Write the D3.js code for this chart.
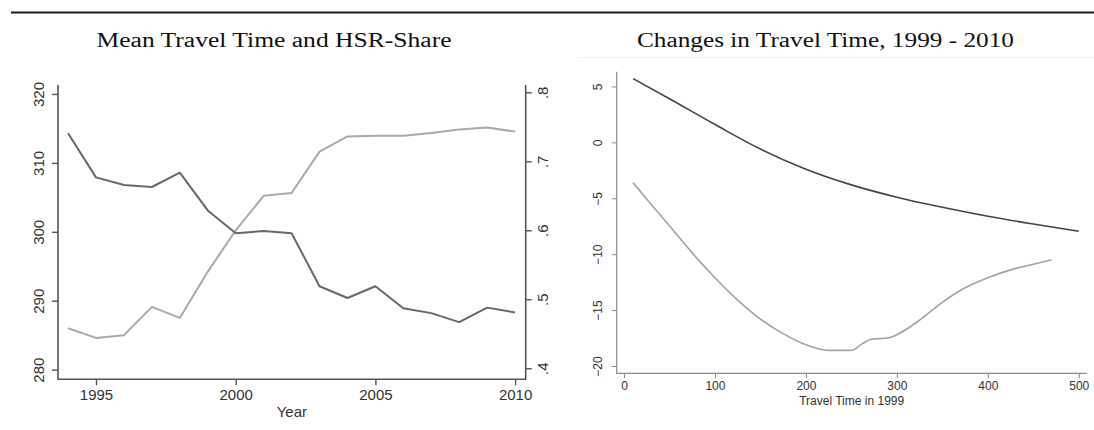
<!DOCTYPE html>
<html>
<head>
<meta charset="utf-8">
<script src="https://cdn.jsdelivr.net/npm/d3@7"></script>
<style>
  html, body { margin: 0; padding: 0; background: #fff; }
  svg { display: block; }
</style>
</head>
<body>
<svg id="fig" width="1094" height="430"></svg>
<script>
// Panel (a): yearly means
const years = [1994, 1995, 1996, 1997, 1998, 1999, 2000, 2001, 2002, 2003, 2004, 2005, 2006, 2007, 2008, 2009, 2010];
const meanTravelTime = [314.3, 307.9, 306.8, 306.5, 308.6, 303.1, 299.8, 300.1, 299.8, 292.1, 290.4, 292.1, 288.9, 288.2, 286.9, 289.0, 288.3];
const hsrShare = [0.458, 0.444, 0.448, 0.489, 0.473, 0.540, 0.600, 0.650, 0.654, 0.714, 0.736, 0.737, 0.737, 0.741, 0.746, 0.749, 0.743];
const yearTicks = [1995, 2000, 2005, 2010];
const timeTicks = [280, 290, 300, 310, 320];
const shareTicks = [0.4, 0.5, 0.6, 0.7, 0.8];
const shareTickLabels = [".4", ".5", ".6", ".7", ".8"];

// Panel (b): smoothed changes against 1999 travel time
const baseTimeA = [10, 50, 100, 150, 200, 250, 300, 350, 400, 450, 500];
const changeA = [5.7, 3.9, 1.6, -0.6, -2.4, -3.8, -4.9, -5.8, -6.6, -7.3, -7.95];
const baseTimeB = [10, 30, 55, 80, 100, 125, 150, 175, 200, 225, 250, 262, 272, 290, 300, 325, 350, 375, 400, 425, 450, 470];
const changeB = [-3.6, -5.55, -7.95, -10.35, -12.1, -14.1, -15.8, -17.1, -18.1, -18.6, -18.6, -18.0, -17.6, -17.5, -17.2, -15.9, -14.3, -13.0, -12.1, -11.4, -10.9, -10.5];
const baseTicks = [0, 100, 200, 300, 400, 500];
const changeTicks = [-20, -15, -10, -5, 0, 5];

const svg = d3.select("#fig");
const sans = "'Liberation Sans', Arial, sans-serif";
const serif = "'Liberation Serif', 'Times New Roman', serif";

// Rule across the top
svg.append("line")
  .attr("x1", 11).attr("x2", 1094).attr("y1", 12.5).attr("y2", 12.5)
  .attr("stroke", "#1a1a1a").attr("stroke-width", 2.2);

// Panel titles
function title(text, cx, width) {
  svg.append("text")
    .attr("x", cx).attr("y", 47)
    .attr("text-anchor", "middle")
    .attr("font-family", serif).attr("font-size", 20.5)
    .attr("fill", "#111")
    .attr("textLength", width).attr("lengthAdjust", "spacingAndGlyphs")
    .text(text);
}
title("Mean Travel Time and HSR-Share", 274, 355);
title("Changes in Travel Time, 1999 - 2010", 825.5, 377);

// faint frame edge of the right graph region
svg.append("line")
  .attr("x1", 577).attr("x2", 1094).attr("y1", 57.5).attr("y2", 57.5)
  .attr("stroke", "#f0f0f0").attr("stroke-width", 1);

// ---------- Panel (a) ----------
{
  const L = 58, R = 525.7, T = 85, B = 379.3;
  const x = d3.scaleLinear().domain([1993.64, 2010.38]).range([L, R]);
  const yL = d3.scaleLinear().domain([278.6, 321.3]).range([B, T]);
  const yR = d3.scaleLinear().domain([0.384, 0.8106]).range([B, T]);
  const axisColor = "#555";
  const g = svg.append("g");

  function style(sel, fs) {
    sel.select(".domain").remove();
    sel.selectAll(".tick line").attr("stroke", axisColor).attr("stroke-width", 1.4);
    sel.selectAll(".tick text").attr("fill", "#333").attr("font-family", sans).attr("font-size", fs);
  }

  const ax = g.append("g").attr("transform", `translate(0,${B})`)
    .call(d3.axisBottom(x).tickValues(yearTicks).tickFormat(d3.format("d")).tickSize(6).tickPadding(4));
  style(ax, 15);

  const al = g.append("g").attr("transform", `translate(${L},0)`)
    .call(d3.axisLeft(yL).tickValues(timeTicks).tickSize(6).tickPadding(0));
  style(al, 15);
  al.selectAll(".tick text")
    .attr("transform", "translate(-14,0) rotate(-90)")
    .attr("text-anchor", "middle").attr("x", 0).attr("dy", 0).attr("y", 0);

  const ar = g.append("g").attr("transform", `translate(${R},0)`)
    .call(d3.axisRight(yR).tickValues(shareTicks).tickFormat((d, i) => shareTickLabels[i]).tickSize(6));
  style(ar, 15);
  ar.selectAll(".tick text")
    .attr("transform", "translate(22,0) rotate(-90)")
    .attr("text-anchor", "middle").attr("x", 0).attr("dy", 0).attr("y", 0);

  // axis lines
  g.append("path")
    .attr("d", `M${L},${T}V${B}H${R}V${T}`)
    .attr("fill", "none").attr("stroke", axisColor).attr("stroke-width", 1.6);

  g.append("text")
    .attr("x", (L + R) / 2).attr("y", 417)
    .attr("text-anchor", "middle")
    .attr("font-family", sans).attr("font-size", 15).attr("fill", "#333")
    .text("Year");

  const lineL = d3.line().x((d, i) => x(years[i])).y(d => yL(d));
  const lineR = d3.line().x((d, i) => x(years[i])).y(d => yR(d));

  g.append("path").datum(hsrShare).attr("d", lineR)
    .attr("fill", "none").attr("stroke", "#a9a9a9").attr("stroke-width", 2)
    .attr("stroke-linejoin", "round");
  g.append("path").datum(meanTravelTime).attr("d", lineL)
    .attr("fill", "none").attr("stroke", "#686868").attr("stroke-width", 2)
    .attr("stroke-linejoin", "round");
}

// ---------- Panel (b) ----------
{
  const L = 616.7, R = 1086.7, T = 71.7, B = 373.3;
  const x = d3.scaleLinear().domain([-8, 508.7]).range([L, R]);
  const y = d3.scaleLinear().domain([-20.65, 6.32]).range([B, T]);
  const axisColor = "#8a8a8a";
  const g = svg.append("g");

  function style(sel) {
    sel.select(".domain").remove();
    sel.selectAll(".tick line").attr("stroke", axisColor).attr("stroke-width", 1);
    sel.selectAll(".tick text").attr("fill", "#333").attr("font-family", sans).attr("font-size", 12);
  }

  const ax = g.append("g").attr("transform", `translate(0,${B})`)
    .call(d3.axisBottom(x).tickValues(baseTicks).tickSize(5).tickPadding(3));
  style(ax);

  const ay = g.append("g").attr("transform", `translate(${L},0)`)
    .call(d3.axisLeft(y).tickValues(changeTicks).tickFormat(d3.format("d")).tickSize(5));
  style(ay);
  ay.selectAll(".tick text")
    .attr("transform", "translate(-15,0) rotate(-90)")
    .attr("text-anchor", "middle").attr("x", 0).attr("dy", 0).attr("y", 0);

  g.append("path")
    .attr("d", `M${L},${T}V${B}H${R}`)
    .attr("fill", "none").attr("stroke", axisColor).attr("stroke-width", 1.2);

  g.append("text")
    .attr("x", (L + R) / 2).attr("y", 405)
    .attr("text-anchor", "middle")
    .attr("font-family", sans).attr("font-size", 12).attr("fill", "#333")
    .text("Travel Time in 1999");

  const line = (xs) => d3.line().curve(d3.curveMonotoneX)
    .x((d, i) => x(xs[i])).y(d => y(d));

  g.append("path").datum(changeB).attr("d", line(baseTimeB))
    .attr("fill", "none").attr("stroke", "#a3a3a3").attr("stroke-width", 1.6);
  g.append("path").datum(changeA).attr("d", line(baseTimeA))
    .attr("fill", "none").attr("stroke", "#444").attr("stroke-width", 1.6);
}
</script>
</body>
</html>
